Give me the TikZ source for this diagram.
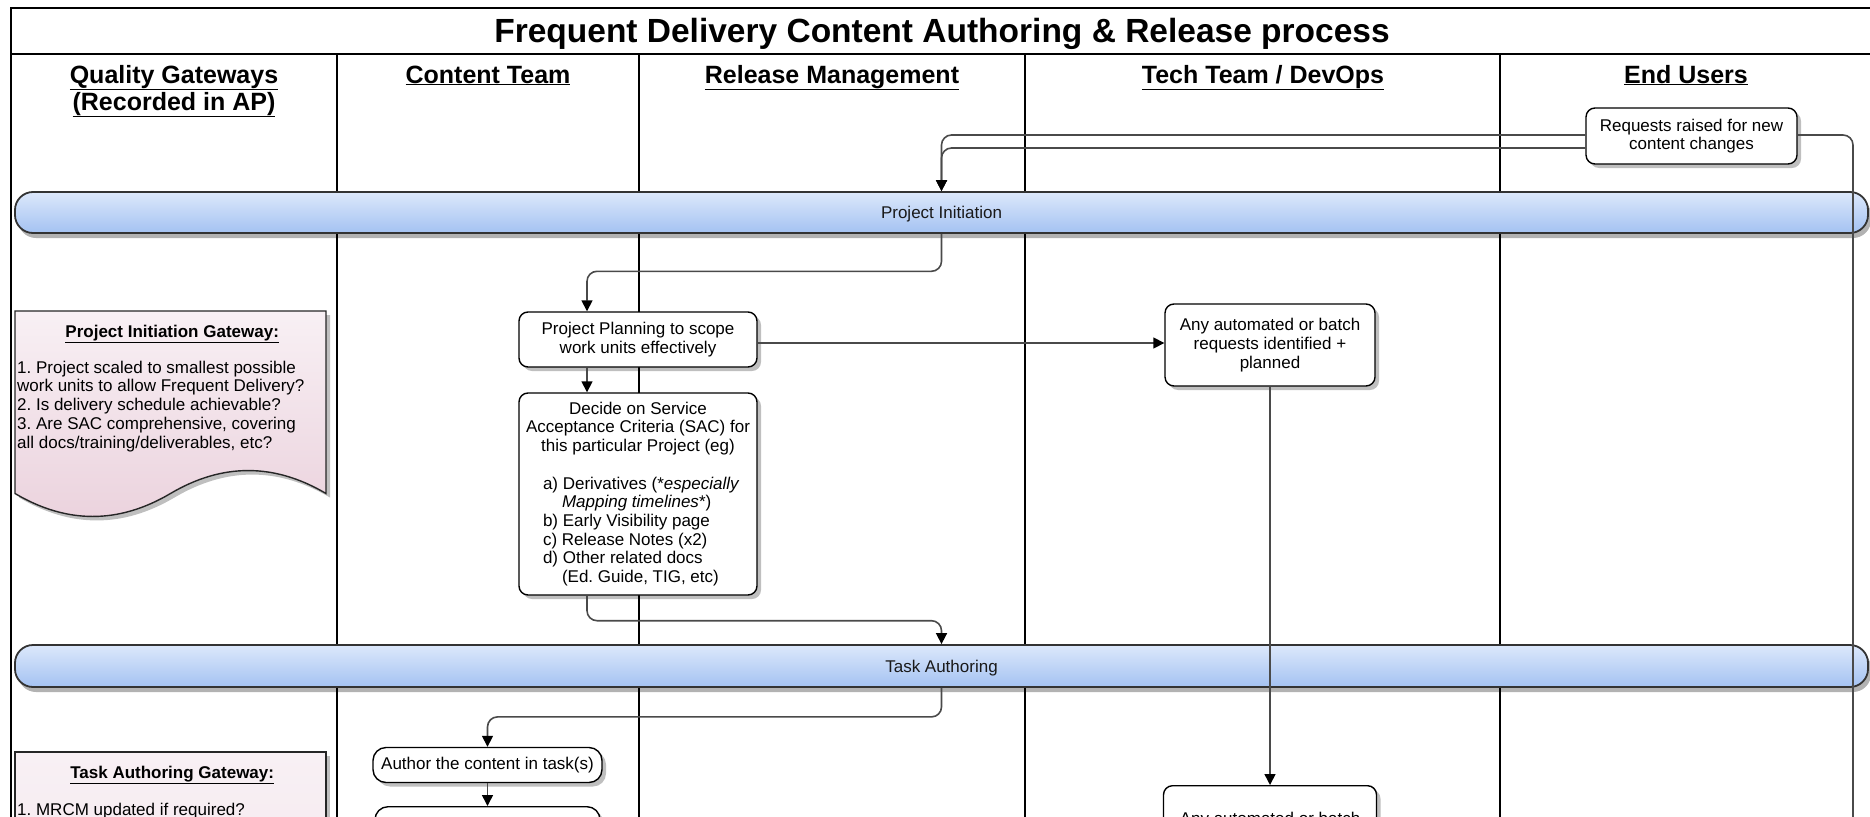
\documentclass[tikz,border=0pt]{standalone}
\usepackage{fontspec}
\setmainfont{Liberation Sans}
\usetikzlibrary{arrows.meta,shadows,calc}
\definecolor{barTop}{HTML}{DCE8FB}
\definecolor{barMid}{HTML}{B2CCF5}
\definecolor{barBot}{HTML}{A4C2F2}
\definecolor{pinkTop}{HTML}{F8F0F4}
\definecolor{pinkBot}{HTML}{EBD2DD}
\definecolor{connCol}{HTML}{4A4A4A}
\newcommand\bodyfnt{\fontsize{17}{18.7}\selectfont\frenchspacing}
\begin{document}
\begin{tikzpicture}[x=1pt,y=-1pt,
  lane/.style={line width=2.2pt, draw=black},
  bar/.style={draw=black!80, line width=1.8pt, rounded corners=18pt,
    top color=barTop, middle color=barMid, bottom color=barBot,
    minimum width=1853pt, minimum height=41pt, inner sep=0pt, font=\bodyfnt, text=black!90,
    text height=12pt, text depth=0pt,
    drop shadow={shadow xshift=3pt, shadow yshift=-5pt, fill=black, opacity=0.3}},
  box/.style={draw=black, line width=1.4pt, fill=white, rounded corners=9pt, align=center,
    inner sep=1pt, font=\bodyfnt,
    drop shadow={shadow xshift=4pt, shadow yshift=-4pt, fill=black, opacity=0.25}},
  conn/.style={draw=connCol, line width=1.6pt, rounded corners=10pt},
  arr/.style={-{Triangle[width=11pt,length=11pt,color=black]}},
  hdr/.style={font=\fontsize{25}{27}\selectfont\bfseries, inner sep=0pt, anchor=base},
  gwtext/.style={font=\bodyfnt, align=left, inner sep=0pt},
  gwshape/.style={draw=black!85, line width=1.4pt, top color=pinkTop, bottom color=pinkBot},
  gwshadow/.style={fill=black, opacity=0.25}
]
\useasboundingbox (0,0) rectangle (1870,816);
\clip (0,0) rectangle (1870,816);

% frame and lanes
\draw[lane] (11,8) rectangle (1872,900);
\draw[lane] (11,54) -- (1872,54);
\draw[lane] (337,54) -- (337,820);
\draw[lane] (639,54) -- (639,820);
\draw[lane] (1025,54) -- (1025,820);
\draw[lane] (1500,54) -- (1500,820);

% title and headers
\node[font=\fontsize{33.5}{38}\selectfont\bfseries, inner sep=0pt, anchor=base] (title) at (942,43)
  {Frequent Delivery Content Authoring \& Release process};
\node[hdr] (hqg) at (174,83) {\underline{Quality Gateways}};
\node[hdr] (hqg2) at (174,110) {\underline{(Recorded in AP)}};
\node[hdr] (hct) at (488,83) {\underline{Content Team}};
\node[hdr] (hrm) at (832,83) {\underline{Release Management}};
\node[hdr] (htt) at (1263,83) {\underline{Tech Team / DevOps}};
\node[hdr] (heu) at (1686,83) {\underline{End Users}};

% phase bars
\node[bar] (pinit) at (941.5,212.5) {Project Initiation};
\node[bar, minimum height=42pt] (tauth) at (941.5,666) {Task Authoring};

% Project Initiation Gateway (document shape)
\path[gwshadow, shift={(4,4)}] (15,311) -- (326,311) -- (326,493.5)
  .. controls (274.2,462.9) and (222.3,462.9) .. (170.5,493.5)
  .. controls (118.7,524.1) and (66.8,524.1) .. (15,493.5) -- cycle;
\path[gwshape] (15,311) -- (326,311) -- (326,493.5)
  .. controls (274.2,462.9) and (222.3,462.9) .. (170.5,493.5)
  .. controls (118.7,524.1) and (66.8,524.1) .. (15,493.5) -- cycle;
\node[gwtext, anchor=north west] (pigtext) at (17,325)
  {\makebox[310pt]{\bfseries\underline{Project Initiation Gateway:}}\\[17pt]
   1. Project scaled to smallest possible\\
   work units to allow Frequent Delivery?\\
   2. Is delivery schedule achievable?\\
   3. Are SAC comprehensive, covering\\
   all docs/training/deliverables, etc?};

% Task Authoring Gateway
\path[gwshadow, shift={(4,4)}] (15,752) rectangle (326,1000);
\path[gwshape, top color=pinkTop, bottom color=pinkTop!60!pinkBot] (15,752) rectangle (326,1000);
\node[gwtext, anchor=north west] (tagtext) at (17,766)
  {\makebox[310pt]{\bfseries\underline{Task Authoring Gateway:}}\\[18pt]
   1. MRCM updated if required?};

% process boxes
\node[box, minimum width=211pt, minimum height=56pt] (req) at (1691.5,136)
  {Requests raised for new\\content changes};
\node[box, minimum width=238pt, minimum height=55pt] (pp) at (638,339.5)
  {Project Planning to scope\\work units effectively};
\node[box, minimum width=238pt, minimum height=202pt] (sac) at (638,494)
  {Decide on Service\\Acceptance Criteria (SAC) for\\this particular Project (eg)\\[18.7pt]
   \makebox[190pt][l]{a) Derivatives (*\textit{especially}}\\
   \makebox[190pt][l]{\hspace{19pt}\textit{Mapping timelines}*)}\\
   \makebox[190pt][l]{b) Early Visibility page}\\
   \makebox[190pt][l]{c) Release Notes (x2)}\\
   \makebox[190pt][l]{d) Other related docs}\\
   \makebox[190pt][l]{\hspace{19pt}(Ed. Guide, TIG, etc)}};
\node[box, minimum width=210pt, minimum height=82pt] (tb1) at (1270,345)
  {Any automated or batch\\requests identified +\\planned};
\node[box, minimum width=213pt, minimum height=68pt, anchor=north] (tb2) at (1270,785)
  {Any automated or batch};
\node[box, rounded corners=13pt, minimum width=229pt, minimum height=35pt] (auth) at (487.5,765)
  {Author the content in task(s)};
\node[box, rounded corners=13pt, minimum width=225pt, minimum height=60pt, anchor=north] (nextb) at (487.5,806) {};

% connectors
\coordinate (cbot) at (1853,840);
\draw[conn] (cbot) |- ($(req.east)+(0,-1)$);
\draw[conn, arr] ($(req.west)+(0,-1)$) -| (pinit.north);
\draw[conn, arr] ($(req.west)+(0,12)$) -| (pinit.north);
\draw[conn, arr] (pinit.south) |- ($(pp.north)+(-51,-40)$) -- ($(pp.north)+(-51,0)$);
\draw[conn, arr] ($(pp.east)+(0,3.5)$) -- ($(tb1.west)+(0,-2)$);
\draw[conn, arr] ($(pp.south)+(-51,0)$) -- ($(sac.north)+(-51,0)$);
\draw[conn, arr] ($(sac.south)+(-51,0)$) -- ++(0,25) -| (tauth.north);
\draw[conn, arr] (tauth.south) -- ++(0,29) -| (auth.north);
\draw[conn, arr] (auth.south) -- (nextb.north);
\draw[conn, arr] (tb1.south) -- (tb1.south |- tb2.north);
\end{tikzpicture}
\end{document}
